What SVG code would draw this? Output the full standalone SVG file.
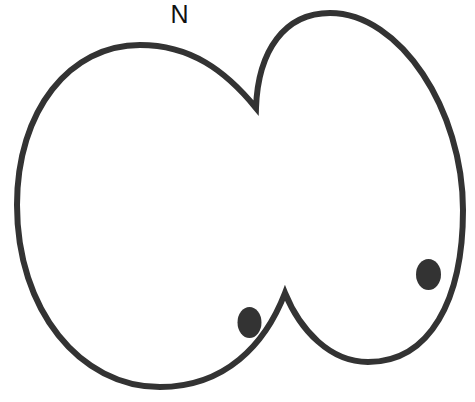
<svg xmlns="http://www.w3.org/2000/svg" width="475" height="402" viewBox="0 0 475 402">
<style>
.outline{fill:none;stroke:#333;stroke-width:6;stroke-linejoin:miter;stroke-miterlimit:20}
.dot{fill:#333}
.lbl{font-family:"Liberation Sans",Arial,sans-serif;font-size:25px;fill:#111}
</style>
<rect width="475" height="402" fill="#fff"/>
<g id="label-N"><text class="lbl" x="179.5" y="23" text-anchor="middle">N</text></g>
<g id="outline">
<path class="outline" d="M 256,108 C 225,70 190,45 140,45 C 70,45 17,110 17,205 C 17,310 80,387 160,387 C 225,387 265,345 285,293 C 300,330 330,362 368,362 C 430,362 463,300 463,210 C 463,110 400,13 330,13 C 285,13 258,50 256,108 Z"/>
</g>
<g id="dot-left"><ellipse class="dot" cx="249.5" cy="322.5" rx="12" ry="15.5"/></g>
<g id="dot-right"><ellipse class="dot" cx="428.5" cy="274.5" rx="12.5" ry="15.5"/></g>
</svg>
